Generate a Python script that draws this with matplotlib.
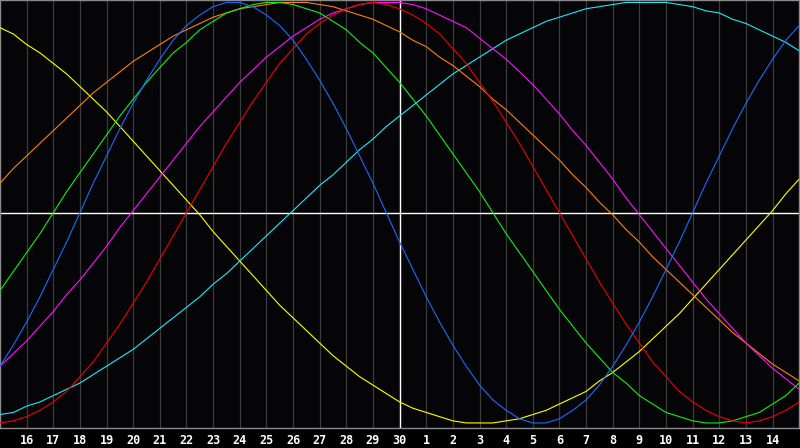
import numpy as np
import matplotlib.pyplot as plt

# ---------------------------
# Data (one value per half day)
# ---------------------------
day_labels = ["16", "17", "18", "19", "20", "21", "22", "23", "24", "25",
              "26", "27", "28", "29", "30", "1", "2", "3", "4", "5", "6",
              "7", "8", "9", "10", "11", "12", "13", "14"]
today_index = 15

blue = [-0.73, -0.63, -0.52, -0.40, -0.27, -0.14, 0.0, 0.14, 0.27, 0.40,
        0.52, 0.63, 0.73, 0.82, 0.89, 0.94, 0.98, 1.0, 1.0, 0.98,
        0.94, 0.89, 0.82, 0.73, 0.63, 0.52, 0.40, 0.27, 0.14, 0.0,
        -0.14, -0.27, -0.40, -0.52, -0.63, -0.73, -0.82, -0.89, -0.94, -0.98,
        -1.0, -1.0, -0.98, -0.94, -0.89, -0.82, -0.73, -0.63, -0.52, -0.40,
        -0.27, -0.14, 0.0, 0.14, 0.27, 0.40, 0.52, 0.63, 0.73, 0.82, 0.89]
red = [-1.0, -0.99, -0.97, -0.94, -0.90, -0.85, -0.78, -0.71, -0.62, -0.53,
       -0.43, -0.33, -0.22, -0.11, 0.0, 0.11, 0.22, 0.33, 0.43, 0.53,
       0.62, 0.71, 0.78, 0.85, 0.90, 0.94, 0.97, 0.99, 1.0, 0.99,
       0.97, 0.94, 0.90, 0.85, 0.78, 0.71, 0.62, 0.53, 0.43, 0.33,
       0.22, 0.11, 0.0, -0.11, -0.22, -0.33, -0.43, -0.53, -0.62, -0.71,
       -0.78, -0.85, -0.90, -0.94, -0.97, -0.99, -1.0, -0.99, -0.97, -0.94,
       -0.90]
green = [-0.37, -0.28, -0.19, -0.10, 0.0, 0.10, 0.19, 0.28, 0.37, 0.46,
         0.54, 0.62, 0.69, 0.76, 0.81, 0.87, 0.91, 0.95, 0.97, 0.99,
         1.0, 1.0, 0.99, 0.97, 0.95, 0.91, 0.87, 0.81, 0.76, 0.69,
         0.62, 0.54, 0.46, 0.37, 0.28, 0.19, 0.10, 0.0, -0.10, -0.19,
         -0.28, -0.37, -0.46, -0.54, -0.62, -0.69, -0.76, -0.81, -0.87, -0.91,
         -0.95, -0.97, -0.99, -1.0, -1.0, -0.99, -0.97, -0.95, -0.91, -0.87,
         -0.81]
magenta = [-0.73, -0.67, -0.61, -0.54, -0.47, -0.39, -0.32, -0.24, -0.16, -0.07,
           0.01, 0.09, 0.17, 0.25, 0.33, 0.41, 0.48, 0.55, 0.62, 0.68,
           0.74, 0.79, 0.84, 0.88, 0.92, 0.95, 0.97, 0.99, 1.0, 1.0,
           1.0, 0.99, 0.97, 0.94, 0.91, 0.88, 0.83, 0.78, 0.73, 0.67,
           0.61, 0.54, 0.47, 0.39, 0.32, 0.24, 0.16, 0.07, -0.01, -0.09,
           -0.17, -0.25, -0.33, -0.41, -0.48, -0.55, -0.62, -0.68, -0.74, -0.79,
           -0.84]
orange = [0.14, 0.21, 0.27, 0.33, 0.39, 0.45, 0.51, 0.57, 0.62, 0.67,
          0.72, 0.76, 0.80, 0.84, 0.87, 0.90, 0.93, 0.95, 0.97, 0.98,
          0.99, 1.0, 1.0, 1.0, 0.99, 0.98, 0.96, 0.94, 0.92, 0.89,
          0.86, 0.82, 0.79, 0.74, 0.70, 0.65, 0.60, 0.54, 0.49, 0.43,
          0.37, 0.31, 0.25, 0.18, 0.12, 0.05, -0.01, -0.08, -0.14, -0.21,
          -0.27, -0.33, -0.39, -0.45, -0.51, -0.57, -0.62, -0.67, -0.72, -0.76,
          -0.80]
yellow = [0.88, 0.85, 0.80, 0.76, 0.71, 0.66, 0.60, 0.54, 0.48, 0.41,
          0.34, 0.27, 0.20, 0.13, 0.06, -0.01, -0.09, -0.16, -0.23, -0.30,
          -0.37, -0.44, -0.50, -0.56, -0.62, -0.68, -0.73, -0.78, -0.82, -0.86,
          -0.90, -0.93, -0.95, -0.97, -0.99, -1.0, -1.0, -1.0, -0.99, -0.98,
          -0.96, -0.94, -0.91, -0.88, -0.85, -0.80, -0.76, -0.71, -0.66, -0.60,
          -0.54, -0.48, -0.41, -0.34, -0.27, -0.20, -0.13, -0.06, 0.01, 0.09,
          0.16]
cyan = [-0.96, -0.95, -0.92, -0.90, -0.87, -0.84, -0.81, -0.77, -0.73, -0.69,
        -0.65, -0.60, -0.55, -0.50, -0.45, -0.40, -0.34, -0.29, -0.23, -0.17,
        -0.11, -0.05, 0.01, 0.07, 0.13, 0.18, 0.24, 0.30, 0.35, 0.41,
        0.46, 0.51, 0.56, 0.61, 0.66, 0.70, 0.74, 0.78, 0.82, 0.85,
        0.88, 0.91, 0.93, 0.95, 0.97, 0.98, 0.99, 1.0, 1.0, 1.0,
        1.0, 0.99, 0.98, 0.96, 0.95, 0.92, 0.90, 0.87, 0.84, 0.81,
        0.77]

series = [
    (yellow, "#ffff00"),
    (cyan, "#20e8f8"),
    (orange, "#ff8010"),
    (magenta, "#ff10ff"),
    (green, "#10f010"),
    (red, "#f00000"),
    (blue, "#1a6cff"),
]

# ---------------------------
# Figure
# ---------------------------
fig = plt.figure(figsize=(8, 4.48), dpi=100, facecolor="black")
ax = fig.add_axes([0.0, 20 / 448, 0.999, 428 / 448 - 0.001])
ax.set_facecolor("#050508")

days = np.linspace(0, 30, len(blue))
ax.set_xlim(0, 30)
ax.set_ylim(-1.024, 1.0095)

for d in range(1, 30):
    ax.axvline(d, color="#3c3c3c", lw=0.9, zorder=1)

for vals, col in series:
    ax.plot(days, vals, color=col, lw=0.8, zorder=3)

ax.axhline(0, color="white", lw=1.0, zorder=2)
ax.axvline(today_index, color="white", lw=1.0, zorder=2)

for s in ax.spines.values():
    s.set_color("#8a8a8a")
    s.set_linewidth(1.0)

ax.set_xticks(np.arange(1, 30))
ax.set_xticklabels(day_labels)
ax.tick_params(axis="x", length=0, pad=4, colors="white", labelsize=8.5)
ax.set_yticks([])
for lbl in ax.get_xticklabels():
    lbl.set_fontfamily("DejaVu Sans Mono")
    lbl.set_fontweight("bold")

fig.savefig("out.png", dpi=100, facecolor="black")
